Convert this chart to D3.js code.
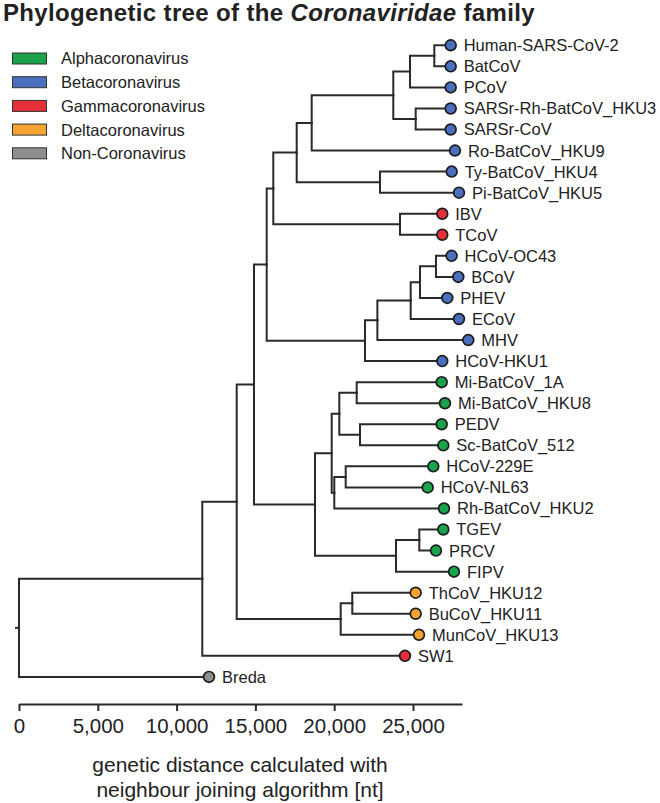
<!DOCTYPE html>
<html>
<head>
<meta charset="utf-8">
<script src="https://cdn.jsdelivr.net/npm/d3@7"></script>
<style>
  html, body { margin: 0; padding: 0; background: #fff; }
  svg { display: block; font-family: "Liberation Sans", Arial, sans-serif; }
</style>
</head>
<body>
<svg id="chart" width="660" height="803"></svg>
<script>
// ---- data ----
const nodeNames = [
  "root","n1","n2","n3","n4","n5","n6","n7","n8","n9","n10",
  "Human-SARS-CoV-2","BatCoV","PCoV","n11","SARSr-Rh-BatCoV_HKU3","SARSr-CoV",
  "Ro-BatCoV_HKU9","n12","Ty-BatCoV_HKU4","Pi-BatCoV_HKU5",
  "n13","IBV","TCoV",
  "n14","n15","n16","n17","n18","HCoV-OC43","BCoV","PHEV","ECoV","MHV","HCoV-HKU1",
  "n19","n20","n21","n22","Mi-BatCoV_1A","Mi-BatCoV_HKU8","n23","PEDV","Sc-BatCoV_512",
  "n24","n25","HCoV-229E","HCoV-NL63","Rh-BatCoV_HKU2",
  "n26","n27","TGEV","PRCV","FIPV",
  "n28","n29","ThCoV_HKU12","BuCoV_HKU11","MunCoV_HKU13",
  "SW1","Breda"
];
const nodeParents = [
  "","root","n1","n2","n3","n4","n5","n6","n7","n8","n9",
  "n10","n10","n9","n8","n11","n11",
  "n7","n6","n12","n12",
  "n5","n13","n13",
  "n4","n14","n15","n16","n17","n18","n18","n17","n16","n15","n14",
  "n3","n19","n20","n21","n22","n22","n21","n23","n23",
  "n20","n24","n25","n25","n24",
  "n19","n26","n27","n27","n26",
  "n2","n28","n29","n29","n28",
  "n1","root"
];
// cumulative genetic distance from the root [nt]
const nodeDistances = [
  0, 11630, 13813, 14911, 15717, 16136, 17621, 18572, 23750, 24810, 26352,
  27392, 27392, 27392, 25171, 27392, 27392,
  27665, 22906, 27456, 27919,
  24175, 26859, 26859,
  21954, 22740, 24854, 25444, 26459, 27450, 27875, 27177, 27919, 28509, 26859,
  18782, 19841, 20325, 21427, 26821, 27030, 21637, 26821, 26923,
  20006, 20730, 26288, 25933, 26967,
  23921, 25400, 26923, 26459, 27601,
  20412, 21148, 25171, 25171, 25381,
  24492, 12056
];
const nodeGroups = [
  "","","","","","","","","","","",
  "Beta","Beta","Beta","","Beta","Beta",
  "Beta","","Beta","Beta",
  "","Gamma","Gamma",
  "","","","","","Beta","Beta","Beta","Beta","Beta","Beta",
  "","","","","Alpha","Alpha","","Alpha","Alpha",
  "","","Alpha","Alpha","Alpha",
  "","","Alpha","Alpha","Alpha",
  "","","Delta","Delta","Delta",
  "Gamma","Non"
];
const groupKeys = ["Alpha","Beta","Gamma","Delta","Non"];
const groupLabels = ["Alphacoronavirus","Betacoronavirus","Gammacoronavirus","Deltacoronavirus","Non-Coronavirus"];
const groupColors = ["#1aa34a","#4a6fbd","#e5303b","#f6a331","#8e8e8e"];
const tickValues = [0, 5000, 10000, 15000, 20000, 25000];

// ---- build ----
const svg = d3.select("#chart");
const table = nodeNames.map((n, i) => ({ id: n, parent: nodeParents[i] || null, dist: nodeDistances[i], group: nodeGroups[i] }));
const root = d3.stratify().id(d => d.id).parentId(d => d.parent)(table);

const x = d3.scaleLinear().domain([0, 28110]).range([19, 462]);
const leaves = root.leaves();
const y = d3.scalePoint().domain(leaves.map(d => d.id)).range([45.3, 676.9]);
const color = d3.scaleOrdinal().domain(groupKeys).range(groupColors);

root.eachAfter(n => {
  n.px = x(n.data.dist);
  n.py = n.children ? d3.mean(n.children, c => c.py) : y(n.id);
});

const ink = "#2a2a2a";

// title
const title = svg.append("text").attr("x", 3).attr("y", 20.5)
  .attr("font-size", 24).attr("font-weight", "bold").attr("fill", "#222")
  .attr("letter-spacing", 0.35);
title.append("tspan").text("Phylogenetic tree of the ");
title.append("tspan").attr("font-style", "italic").text("Coronaviridae");
title.append("tspan").text(" family");

// branches
const g = svg.append("g");
g.append("line").attr("x1", x(0) - 4).attr("x2", x(0)).attr("y1", root.py).attr("y2", root.py)
  .attr("stroke", ink).attr("stroke-width", 2);
g.selectAll("path.link").data(root.descendants().filter(d => d.parent)).join("path")
  .attr("class", "link")
  .attr("d", d => `M${d.parent.px},${d.parent.py}V${d.py}H${d.px}`)
  .attr("fill", "none").attr("stroke", ink).attr("stroke-width", 2)
  .attr("stroke-linecap", "square");

// leaf nodes
g.selectAll("circle.leaf").data(leaves).join("circle")
  .attr("class", "leaf")
  .attr("cx", d => d.px).attr("cy", d => d.py).attr("r", 5.4)
  .attr("fill", d => color(d.data.group)).attr("stroke", "#1c1c1c").attr("stroke-width", 1.7);
g.selectAll("text.lab").data(leaves).join("text")
  .attr("class", "lab")
  .attr("x", d => d.px + 13).attr("y", d => d.py).attr("dy", "0.36em")
  .attr("font-size", 16.5).attr("fill", "#222").text(d => d.id);

// legend
const leg = svg.append("g").selectAll("g").data(groupKeys).join("g")
  .attr("transform", (d, i) => `translate(0,${58.5 + i * 23.7})`);
leg.append("rect").attr("x", 12.5).attr("y", -5.5).attr("width", 34).attr("height", 11)
  .attr("fill", d => color(d)).attr("stroke", "#333").attr("stroke-width", 1);
leg.append("text").attr("x", 61).attr("dy", "0.36em").attr("font-size", 16.5).attr("fill", "#222")
  .text((d, i) => groupLabels[i]);

// axis
const axis = svg.append("g").attr("transform", "translate(0,704)")
  .call(d3.axisBottom(x).tickValues(tickValues).tickSize(7).tickSizeOuter(0).tickPadding(7)
    .tickFormat(d3.format(",")));
axis.select(".domain").attr("stroke", ink).attr("stroke-width", 2);
axis.selectAll(".tick line").attr("stroke", ink).attr("stroke-width", 2);
axis.selectAll(".tick text").attr("font-size", 20.5).attr("fill", "#222")
  .attr("font-family", "Liberation Sans, Arial, sans-serif");

svg.append("text").attr("x", 240).attr("y", 772).attr("text-anchor", "middle")
  .attr("font-size", 21).attr("fill", "#222").text("genetic distance calculated with");
svg.append("text").attr("x", 240).attr("y", 797).attr("text-anchor", "middle")
  .attr("font-size", 21).attr("fill", "#222").text("neighbour joining algorithm [nt]");
</script>
</body>
</html>
